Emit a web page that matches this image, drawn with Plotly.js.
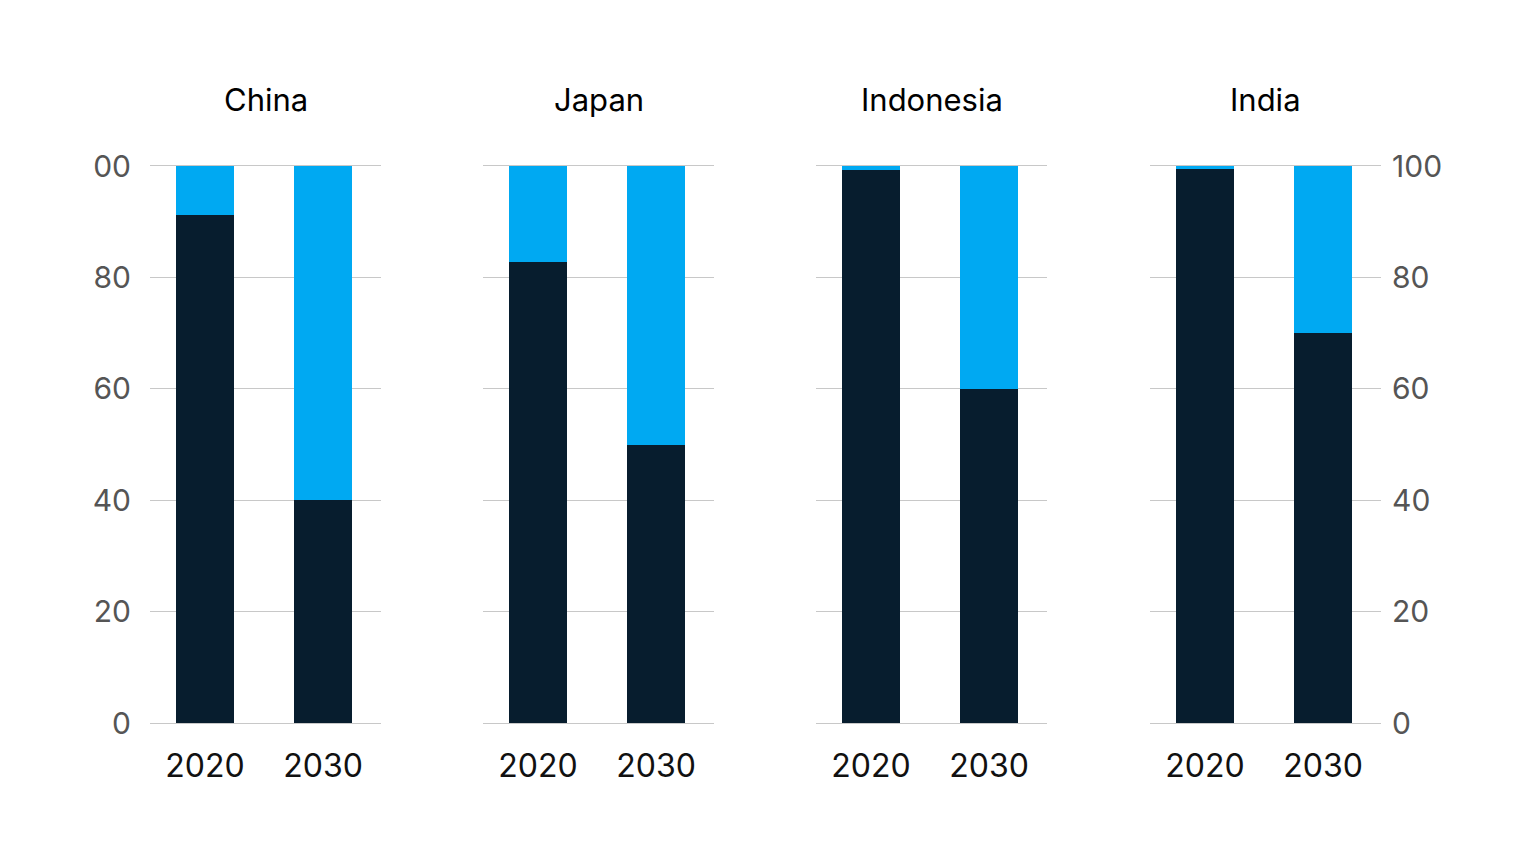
<!DOCTYPE html>
<html>
<head>
<meta charset="utf-8">
<script src="https://cdn.plot.ly/plotly-3.0.1.min.js"></script>
<style>html,body{margin:0;padding:0;background:#fff;}#chart{width:1536px;height:864px;}</style>
</head>
<body>
<div id="chart"></div>
<script>
const countries = ['China', 'Japan', 'Indonesia', 'India'];
const years = ['2020', '2030'];
const darkShare = [[91.2, 40], [82.8, 50], [99.2, 60], [99.4, 70]];
const blueShare = [[8.8, 60], [17.2, 50], [0.8, 40], [0.6, 30]];
const yTickVals = [0, 20, 40, 60, 80, 100];
const yTickLeft = ['0', '20', '40', '60', '80', '00'];
const yTickRight = ['0', '20', '40', '60', '80', '100'];

const DARK = '#071d2e';
const BLUE = '#00a9f2';
const GRID = '#c8c8c8';
const FONT = 'Inter, "Liberation Sans", sans-serif';

const xDomains = [[150, 381], [483, 714], [816, 1047], [1150, 1381]].map(d => [d[0] / 1536, d[1] / 1536]);
const yDomain = [(864 - 723) / 864, (864 - 166) / 864];

const traces = [];
const layout = {
  width: 1536, height: 864,
  margin: {l: 0, r: 0, t: 0, b: 0},
  paper_bgcolor: '#fff', plot_bgcolor: '#fff',
  barmode: 'stack', showlegend: false,
  font: {family: FONT},
  annotations: []
};

countries.forEach((c, i) => {
  const n = i === 0 ? '' : String(i + 1);
  const xa = 'x' + n, ya = 'y' + n;
  traces.push({type: 'bar', x: [0, 1], y: darkShare[i], xaxis: xa, yaxis: ya,
    marker: {color: DARK, line: {width: 0}}, width: 0.49, hoverinfo: 'skip'});
  traces.push({type: 'bar', x: [0, 1], y: blueShare[i], xaxis: xa, yaxis: ya,
    marker: {color: BLUE, line: {width: 0}}, width: 0.49, hoverinfo: 'skip'});
  layout['xaxis' + n] = {
    domain: xDomains[i], anchor: ya, range: [-0.466, 1.49], fixedrange: true,
    tickmode: 'array', tickvals: [0, 1], ticktext: years,
    showgrid: false, zeroline: false,
    showline: true, mirror: true, linecolor: GRID, linewidth: 1,
    layer: 'below traces', ticks: '',
    ticklabelstandoff: 15,
    tickfont: {size: 32, color: '#111', family: FONT}
  };
  const isLeft = i === 0, isRight = i === 3;
  layout['yaxis' + n] = {
    domain: yDomain, anchor: xa, range: [0, 100], fixedrange: true,
    side: isRight ? 'right' : 'left',
    tickmode: 'array', tickvals: yTickVals,
    ticktext: isRight ? yTickRight : yTickLeft,
    showticklabels: isLeft || isRight,
    showgrid: true, gridcolor: GRID, gridwidth: 1,
    zeroline: false, showline: false, ticks: '',
    layer: 'below traces',
    ticklabelstandoff: isRight ? 10 : 18,
    tickfont: {size: 30, color: '#555', family: FONT}
  };
  layout.annotations.push({
    text: c, xref: 'paper', yref: 'paper',
    x: (xDomains[i][0] + xDomains[i][1]) / 2, y: (864 - 100) / 864,
    xanchor: 'center', yanchor: 'middle', showarrow: false,
    font: {size: 31, color: '#000', family: FONT}
  });
});

Plotly.newPlot('chart', traces, layout, {displayModeBar: false, staticPlot: true});
</script>
</body>
</html>
